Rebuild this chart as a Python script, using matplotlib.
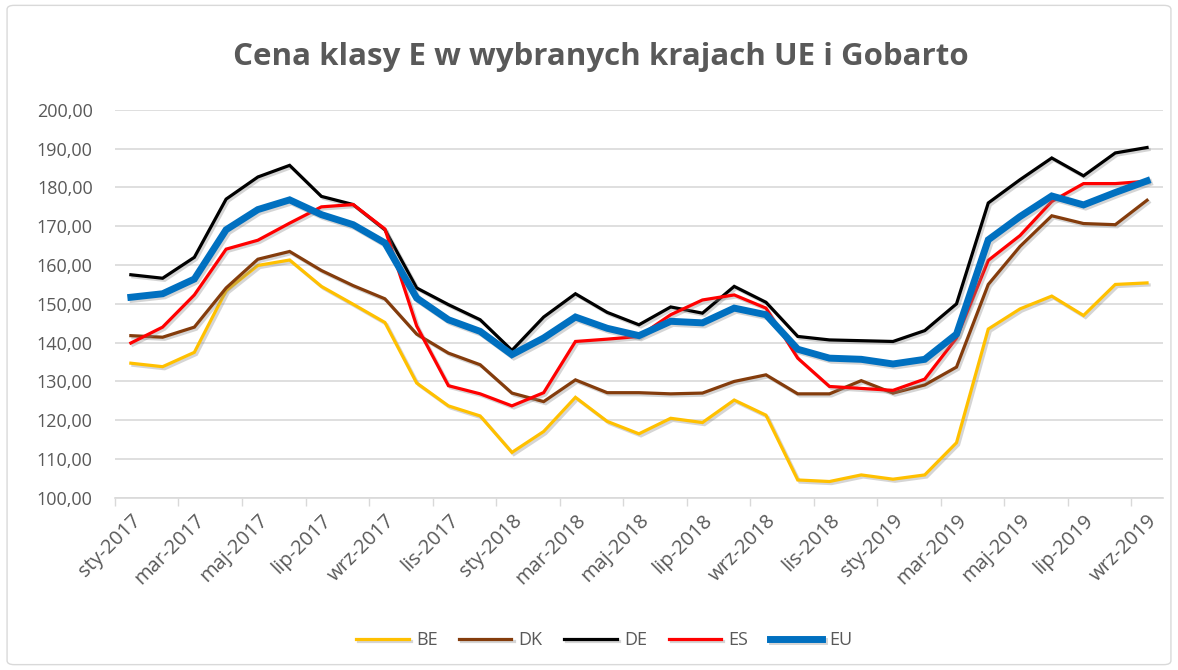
import matplotlib.pyplot as plt
import matplotlib.patheffects as pe
from matplotlib.patches import FancyBboxPatch

# monthly labels, sty-2017 .. wrz-2019
months = ['sty', 'lut', 'mar', 'kwi', 'maj', 'cze', 'lip', 'sie', 'wrz', 'paz', 'lis', 'gru']
labels = [f'{m}-{y}' for y in (2017, 2018, 2019) for m in months][:33]

be = [134.7, 133.8, 137.5, 153.4, 159.9, 161.3, 154.5, 149.9, 145.2, 129.6, 123.7, 121.1,
      111.7, 117.1, 125.9, 119.7, 116.5, 120.5, 119.4, 125.2, 121.3, 104.6, 104.2, 105.9,
      104.8, 105.9, 114.2, 143.5, 148.7, 152.0, 147.0, 155.0, 155.4]
dk = [141.8, 141.4, 144.0, 154.1, 161.5, 163.5, 158.6, 154.7, 151.3, 142.2, 137.3, 134.3,
      127.0, 124.8, 130.4, 127.1, 127.1, 126.8, 127.0, 130.0, 131.7, 126.8, 126.8, 130.2,
      127.0, 129.1, 133.7, 155.0, 164.8, 172.7, 170.7, 170.4, 176.7]
de = [157.5, 156.6, 162.0, 177.0, 182.7, 185.7, 177.7, 175.6, 169.1, 154.1, 149.8, 145.9,
      138.0, 146.6, 152.6, 147.8, 144.6, 149.2, 147.6, 154.5, 150.4, 141.6, 140.7, 140.5,
      140.3, 143.1, 150.0, 176.0, 182.0, 187.6, 183.0, 188.9, 190.3]
es = [139.9, 144.0, 152.3, 164.1, 166.4, 170.8, 175.0, 175.6, 169.3, 144.3, 128.9, 126.8,
      123.7, 127.1, 140.3, 140.9, 141.6, 147.2, 151.0, 152.3, 148.9, 136.0, 128.7, 128.2,
      127.7, 130.6, 141.2, 161.2, 167.6, 176.4, 181.0, 181.0, 181.6]
eu = [151.7, 152.6, 156.4, 169.1, 174.3, 176.8, 173.0, 170.4, 165.7, 151.5, 145.9, 142.9,
      136.9, 141.2, 146.6, 143.7, 141.8, 145.5, 145.1, 148.9, 147.2, 138.3, 136.0, 135.7,
      134.5, 135.7, 142.2, 166.5, 172.5, 177.8, 175.5, 178.7, 181.7]

series = [('BE', be, '#FFC000', 2.3), ('DK', dk, '#843C0C', 2.3), ('DE', de, '#000000', 2.3),
          ('ES', es, '#FF0000', 2.3), ('EU', eu, '#0070C0', 5.0)]

plt.rcParams['font.family'] = ['Open Sans', 'DejaVu Sans']
grey = '#595959'

fig = plt.figure(figsize=(11.78, 6.70), dpi=100)
fig.patches.append(FancyBboxPatch((0.006, 0.008), 0.988, 0.984, boxstyle='round,pad=0,rounding_size=0.006',
                                  transform=fig.transFigure, fill=False, edgecolor='#d9d9d9', lw=1))
ax = fig.add_axes([0.0976, 0.257, 0.8896, 0.579])

x = list(range(len(labels)))
shadow = [pe.SimpleLineShadow(offset=(1.5, -1.5), shadow_color='#888888', alpha=0.35), pe.Normal()]
for name, vals, col, lw in series:
    ax.plot(x, vals, color=col, lw=lw, label=name, solid_joinstyle='miter', path_effects=shadow)

ax.set_ylim(100, 200)
ax.set_yticks(range(100, 201, 10))
ax.set_yticklabels([f'{v},00' for v in range(100, 201, 10)], fontsize=13, color=grey)
ax.set_xlim(-0.5, len(labels) - 0.5)
ax.set_xticks(x[::2])
ax.set_xticklabels(labels[::2], rotation=45, ha='right', rotation_mode='anchor', fontsize=14.5, color=grey)
ax.set_xticks([i - 0.5 for i in range(0, len(labels) + 1, 2)], minor=True)
ax.tick_params(axis='x', which='major', length=0, pad=9)
ax.tick_params(axis='x', which='minor', length=6, color='#d9d9d9', width=1)
ax.tick_params(axis='y', length=0, pad=16)
ax.grid(axis='y', color='#d9d9d9', lw=1.2)
ax.set_axisbelow(True)
for s in ['top', 'right', 'left']:
    ax.spines[s].set_visible(False)
ax.spines['bottom'].set_color('#d9d9d9')
ax.spines['bottom'].set_linewidth(1.2)

fig.text(0.51, 0.915, 'Cena klasy E w wybranych krajach UE i Gobarto', ha='center', va='center',
         fontsize=22.5, fontweight='bold', color=grey)

fig.legend(loc='center', bbox_to_anchor=(0.513, 0.045), ncol=5, frameon=False, fontsize=13,
           handlelength=2.9, columnspacing=1.2, handletextpad=0.4, labelcolor=grey)

fig.savefig('out.png', dpi=100)
